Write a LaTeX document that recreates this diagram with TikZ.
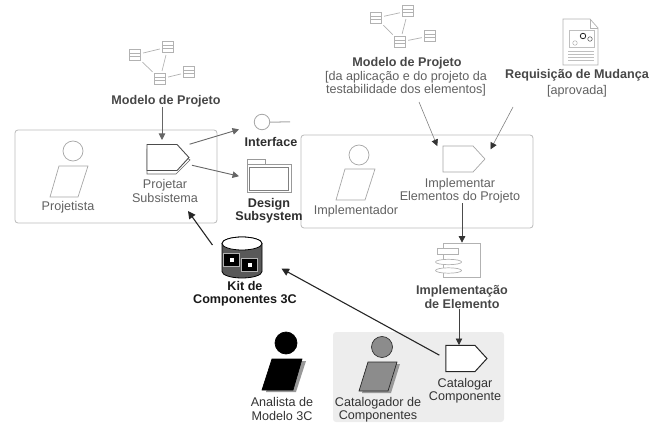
\documentclass[tikz,border=0pt]{standalone}
\usepackage{fontspec}
\setmainfont{Liberation Sans}
\usetikzlibrary{arrows.meta,shapes.geometric,shapes.symbols}

\tikzset{
  lbl/.style={inner sep=0pt,align=center,font=\fontsize{12.6}{13.4}\selectfont,text=#1},
  lbl/.default=black!62,
  blbl/.style={inner sep=0pt,align=center,font=\fontsize{12.6}{13.4}\selectfont\bfseries,text=#1},
  blbl/.default=black!72,
  groupbox/.style={draw=black!27,rounded corners=3pt,line width=0.8pt},
  classbox/.style={draw=black!30,fill=white,line width=0.7pt,minimum width=10.5pt,minimum height=10.5pt,inner sep=0pt,
    path picture={\draw[black!30,line width=0.6pt]
      ([yshift=1.6pt]path picture bounding box.west) -- ([yshift=1.6pt]path picture bounding box.east)
      ([yshift=-1.6pt]path picture bounding box.west) -- ([yshift=-1.6pt]path picture bounding box.east);}},
  classlink/.style={draw=black!30,line width=0.7pt,shorten >=2.5pt,shorten <=2.5pt},
  head/.style={circle,draw=black!35,fill=white,line width=0.7pt,minimum size=20pt,inner sep=0pt},
  body/.style={draw=black!35,fill=white,line width=0.7pt},
  task/.style={signal,signal to=east,signal pointer angle=95,draw=black!35,fill=white,line width=0.7pt,inner sep=0pt,minimum height=26pt,minimum width=42pt},
  flow/.style={draw=black!60,line width=0.9pt,-{Triangle[length=6.5pt,width=6.5pt]}},
  thinflow/.style={draw=black!50,line width=0.6pt,-{Triangle[length=6.5pt,width=6.5pt,color=black!80]}},
  strongflow/.style={draw=black!85,line width=1.1pt,-{Triangle[length=7.5pt,width=7.5pt]}}
}

\begin{document}
\begin{tikzpicture}[scale=0.3514]
\useasboundingbox (0,0) rectangle (66,-42.5);

\fill [black!7,rounded corners=3pt] (33.3,-33.2) rectangle (50.4,-42.2);
\draw [groupbox] (1.5,-13) rectangle (21.7,-22.3);
\draw [groupbox] (30.1,-13.5) rectangle (53.3,-22.8);

% left design model
\node [classbox] (leftA) at (13.5,-5.5) {};
\node [classbox] (leftB) at (16.8,-4.7) {};
\node [classbox] (leftC) at (16,-7.9) {};
\node [classbox] (leftD) at (18.9,-7.2) {};
\draw [classlink] (leftA) -- (leftB);
\draw [classlink] (leftA) -- (leftC);
\draw [classlink] (leftB) -- (leftC);
\draw [classlink] (leftC) -- (leftD);
\node [blbl] (leftModel) at (16.6,-10.1) {Modelo de Projeto};

% designer
\node [head] (designerHead) at (7.3,-15.1) {};
\draw [body] (5.9,-16.6) -- (8.8,-16.6) -- (7.8,-19.7) -- (5,-19.7) -- cycle;
\node [lbl] (designerLabel) at (6.8,-20.75) {Projetista};

% design subsystem task
\draw [black!60,fill=white,line width=0.7pt] (14.7,-14.9) -- (17.5,-14.9) -- (19,-16) -- (17.6,-17.4) -- (14.7,-17.4) -- cycle;
\node [task,draw=black!70,line width=0.9pt] (designTask) at (16.2,-15.75) {};
\node [lbl] (designTaskLabel) at (16.5,-19.1) {Projetar\\Subsistema};

% interface
\node [circle,draw=black!35,line width=0.8pt,fill=white,minimum size=15.5pt,inner sep=0pt] (iface) at (26.2,-12.2) {};
\draw [black!35,line width=1pt] (iface.east) -- (29,-12.2);
\node [blbl=black!82] (ifaceLabel) at (27.1,-14.2) {Interface};

% folder
\draw [black!40,fill=white,line width=0.7pt] (24.7,-15.9) rectangle (26.5,-16.4);
\draw [black!40,fill=white,line width=0.7pt] (24.7,-16.4) rectangle (29.1,-19.2);
\draw [black!50,fill=white,line width=0.8pt] (24.9,-16.7) rectangle (28.8,-19);
\node [inner sep=0pt,minimum width=44pt,minimum height=28pt] (folder) at (26.9,-17.8) {};
\node [blbl=black!82] (folderLabel) at (26.9,-21.1) {Design\\Subsystem};

\draw [flow] (leftModel.south-|16.2,0) -- (16.2,-14);
\draw [flow,shorten <=10pt,shorten >=16pt] (designTask.30) -- (iface.200);
\draw [flow,shorten <=8pt,shorten >=8pt] (designTask.-15) -- (folder.west);

% right design model
\node [classbox] (rightA) at (37.6,-1.8) {};
\node [classbox] (rightB) at (40.8,-1.1) {};
\node [classbox] (rightC) at (40,-4.2) {};
\node [classbox] (rightD) at (43,-3.6) {};
\draw [classlink] (rightA) -- (rightB);
\draw [classlink] (rightA) -- (rightC);
\draw [classlink] (rightB) -- (rightC);
\draw [classlink] (rightC) -- (rightD);
\node [blbl] (rightModel) at (40.7,-6.35) {Modelo de Projeto};
\node [lbl] (rightNote) at (40.6,-8.4) {[da aplicação e do projeto da\\testabilidade dos elementos]};
\coordinate (rightOut) at (41.9,-10.2);

% change request
\draw [black!30,fill=white,line width=0.7pt] (56.3,-1.9) -- (59,-1.9) -- (59.8,-2.8) -- (59.8,-6.5) -- (56.3,-6.5) -- cycle;
\draw [black!30,line width=0.5pt] (59,-1.9) -- (59,-2.8) -- (59.8,-2.8);
\draw [black!25,line width=0.5pt] (56.9,-3) rectangle (59.4,-4.7);
\node [circle,draw=black!85,fill=white,line width=0.8pt,minimum size=5.5pt,inner sep=0pt] (bulbA) at (58.3,-3.6) {};
\node [circle,draw=black!60,fill=white,line width=0.6pt,minimum size=4.5pt,inner sep=0pt] (bulbB) at (59,-3.9) {};
\node [circle,draw=black!30,line width=0.5pt,minimum size=4.5pt,inner sep=0pt] (bulbC) at (57.5,-4.3) {};
\draw [black!25,line width=0.5pt] (56.8,-5.1) -- (59.4,-5.1) (56.8,-5.4) -- (59.4,-5.4) (56.8,-5.7) -- (59.4,-5.7) (56.8,-6) -- (59.4,-6);
\node [blbl] (changeLabel) at (57.7,-7.55) {Requisição de Mudança};
\node [lbl] (changeNote) at (57.7,-9.1) {[aprovada]};
\coordinate (changeOut) at (51.3,-10.7);

% implementer
\node [head] (implementerHead) at (35.9,-15.5) {};
\draw [body] (34.5,-16.9) -- (37.5,-16.9) -- (36.5,-20) -- (33.6,-20) -- cycle;
\node [lbl] (implementerLabel) at (35.6,-21.1) {Implementador};

% implement task
\node [task,minimum width=42pt] (implTask) at (45.8,-15.9) {};
\node [lbl] (implTaskLabel) at (46,-19.05) {Implementar\\Elementos do Projeto};

\draw [thinflow,shorten >=14pt] (rightOut) -- (implTask.west);
\draw [thinflow,shorten >=11pt] (changeOut) -- (implTask.east);

% implementation element
\node [draw=black!30,fill=white,line width=0.7pt,minimum width=37pt,minimum height=34pt,inner sep=0pt] (element) at (46.15,-26) {};
\draw [black!30,fill=white,line width=0.7pt] (43.7,-24.8) rectangle (45.8,-25.4);
\draw [black!30,fill=white,line width=0.7pt] (44.85,-26.2) ellipse (1.3 and 0.27);
\draw [black!30,fill=white,line width=0.7pt] (44.85,-27.05) ellipse (1.3 and 0.27);
\node [blbl] (elementLabel) at (46.2,-29.7) {Implementação\\de Elemento};

\draw [thinflow,draw=black!70] (implTaskLabel.south-|46.2,0) -- (element.north-|46.2,0);

% catalog task
\node [task,draw=black!85,line width=1pt,minimum width=41pt,minimum height=26pt] (catalogTask) at (46.05,-35.85) {};
\node [lbl=black!80] (catalogLabel) at (46.5,-39.1) {Catalogar\\Componente};

\draw [thinflow,draw=black!75] (elementLabel.south-|45.9,0) -- (catalogTask.north-|45.9,0);

% kit
\node [inner sep=0pt,minimum width=40pt,minimum height=41pt] (kit) at (24.2,-25.8) {};
\draw [black,fill=black!65,line width=0.8pt] (22.2,-24.35) -- (22.2,-27.15) arc (180:360:2 and 0.65) -- (26.2,-24.35) arc (0:180:2 and 0.65) -- cycle;
\draw [black,fill=white,line width=0.8pt] (24.2,-24.35) ellipse (2 and 0.65);
\node [fill=black,draw=black!30,line width=0.4pt,minimum width=16pt,minimum height=13pt,inner sep=0pt] (kitA) at (23.1,-26) {};
\node [fill=black,draw=black!30,line width=0.4pt,minimum width=16pt,minimum height=13pt,inner sep=0pt] (kitB) at (24.9,-26.5) {};
\node [fill=white,minimum width=4pt,minimum height=4pt,inner sep=0pt] (kitAdot) at (23.2,-26) {};
\node [fill=white,minimum width=4pt,minimum height=4pt,inner sep=0pt] (kitBdot) at (25,-26.5) {};
\node [blbl=black!90] (kitLabel) at (24.5,-29.4) {Kit de\\Componentes 3C};

\draw [strongflow,shorten <=7pt,shorten >=22pt] (catalogTask.west) -- (kit.east);
\draw [strongflow,shorten <=16pt] (kit.west) -- (18.8,-21.1);

% analyst
\node [head,draw=black,fill=black,minimum size=22pt] (analystHead) at (28.6,-34.3) {};
\fill [black!40] (27.6,-36.1) -- (30.6,-36.1) -- (29.6,-39.2) -- (26.6,-39.2) -- cycle;
\draw [body,draw=black,fill=black] (27.2,-35.9) -- (30.2,-35.9) -- (29.3,-39) -- (26.2,-39) -- cycle;
\node [lbl=black!80] (analystLabel) at (28.2,-40.9) {Analista de\\Modelo 3C};

% cataloguer
\node [head,draw=black!80,fill=black!45,minimum size=21pt] (catalogerHead) at (38.2,-34.7) {};
\fill [black!40] (37.1,-36.4) -- (40,-36.4) -- (39.1,-39.3) -- (36.2,-39.3) -- cycle;
\draw [body,draw=black!85,fill=black!45] (36.8,-36.2) -- (39.7,-36.2) -- (38.8,-39.1) -- (35.9,-39.1) -- cycle;
\node [lbl=black!80] (catalogerLabel) at (37.8,-41) {Catalogador de\\Componentes};
\end{tikzpicture}
\end{document}
